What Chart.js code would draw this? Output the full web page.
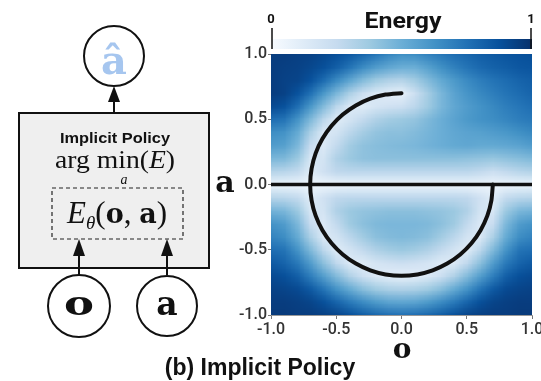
<!DOCTYPE html>
<html>
<head>
<meta charset="utf-8">
<script src="https://cdn.jsdelivr.net/npm/chart.js@4.4.1/dist/chart.umd.min.js"></script>
<style>
  html, body { margin: 0; padding: 0; background: #fff; }
  #wrap { position: relative; width: 541px; height: 381px; overflow: hidden; }
  #energyChart { position: absolute; left: 0; top: 0; }
  #overlay { position: absolute; left: 0; top: 0; pointer-events: none; }
</style>
</head>
<body>
<div id="wrap">
  <canvas id="energyChart" width="560" height="381"></canvas>
  <svg id="overlay" width="541" height="381" xmlns="http://www.w3.org/2000/svg">
    <!-- diagram: implicit policy box -->
    <rect x="19" y="113" width="190" height="155" fill="#efefef" stroke="#111" stroke-width="2"/>
    <text x="115" y="143" text-anchor="middle" font-family="Liberation Sans, Arial, sans-serif" font-weight="bold" font-size="15" fill="#111" textLength="110" lengthAdjust="spacingAndGlyphs">Implicit Policy</text>
    <text x="115" y="168" text-anchor="middle" font-family="Liberation Serif, serif" font-size="25" fill="#111" textLength="120" lengthAdjust="spacingAndGlyphs">arg min(<tspan font-style="italic">E</tspan>)</text>
    <text x="124" y="184" text-anchor="middle" font-family="Liberation Serif, serif" font-style="italic" font-size="14" fill="#111">a</text>
    <rect x="52" y="188" width="131" height="51" fill="none" stroke="#222" stroke-width="1.2" stroke-dasharray="4 3"/>
    <text x="117" y="223" text-anchor="middle" font-family="Liberation Serif, serif" font-size="31" fill="#111"><tspan font-style="italic">E</tspan><tspan font-style="italic" font-size="19" dy="6">θ</tspan><tspan dy="-6">(</tspan><tspan font-family="DejaVu Serif, serif" font-weight="bold" font-size="27">o</tspan>, <tspan font-family="DejaVu Serif, serif" font-weight="bold" font-size="27">a</tspan>)</text>

    <!-- output node -->
    <line x1="114" y1="100" x2="114" y2="113" stroke="#111" stroke-width="2"/>
    <polygon points="114,86 108,102 120,102" fill="#111"/>
    <circle cx="114" cy="56" r="30" fill="#fff" stroke="#111" stroke-width="2"/>
    <text x="114" y="74" text-anchor="middle" font-family="DejaVu Serif, serif" font-weight="bold" font-size="40" fill="#a6c6ef">â</text>

    <!-- input nodes -->
    <line x1="79" y1="254" x2="79" y2="275" stroke="#111" stroke-width="2"/>
    <polygon points="79,239 73,256 85,256" fill="#111"/>
    <line x1="167" y1="254" x2="167" y2="275" stroke="#111" stroke-width="2"/>
    <polygon points="167,239 161,256 173,256" fill="#111"/>
    <circle cx="79" cy="306" r="31" fill="#fff" stroke="#111" stroke-width="2"/>
    <circle cx="167" cy="306" r="30" fill="#fff" stroke="#111" stroke-width="2"/>
    <text x="79" y="315" text-anchor="middle" font-family="DejaVu Serif, serif" font-weight="bold" font-size="33" fill="#111" textLength="30" lengthAdjust="spacingAndGlyphs">o</text>
    <text x="167" y="315" text-anchor="middle" font-family="DejaVu Serif, serif" font-weight="bold" font-size="33" fill="#111">a</text>

    <!-- colorbar labels -->
    <text x="403" y="28" text-anchor="middle" font-family="Roboto, sans-serif" font-weight="bold" font-size="22" fill="#111" textLength="77" lengthAdjust="spacingAndGlyphs">Energy</text>
    <text x="271" y="23" text-anchor="middle" font-family="Roboto, sans-serif" font-weight="bold" font-size="13" fill="#111">0</text>
    <text x="531" y="23" text-anchor="middle" font-family="Roboto, sans-serif" font-weight="bold" font-size="13" fill="#111">1</text>

    <!-- axis titles -->
    <text x="225" y="192" text-anchor="middle" font-family="DejaVu Serif, serif" font-weight="bold" font-size="30" fill="#111">a</text>
    <text x="402" y="358" text-anchor="middle" font-family="DejaVu Serif, serif" font-weight="bold" font-size="28" fill="#111">o</text>

    <!-- caption -->
    <text x="260" y="375" text-anchor="middle" font-family="Liberation Sans, Arial, sans-serif" font-weight="bold" font-size="23" fill="#111">(b) Implicit Policy</text>
  </svg>
</div>
<script>
// ticks
const tickValues = [-1.0, -0.5, 0.0, 0.5, 1.0];

// grid of the energy map: columns o = -1.0 .. 1.0, rows a = 1.0 .. -1.0 (step 0.1)
const gridO = [-1.0, -0.9, -0.8, -0.7, -0.6, -0.5, -0.4, -0.3, -0.2, -0.1, 0.0, 0.1, 0.2, 0.3, 0.4, 0.5, 0.6, 0.7, 0.8, 0.9, 1.0];
const gridA = [1.0, 0.9, 0.8, 0.7, 0.6, 0.5, 0.4, 0.3, 0.2, 0.1, 0.0, -0.1, -0.2, -0.3, -0.4, -0.5, -0.6, -0.7, -0.8, -0.9, -1.0];
const energy = [
  [.95,.95,.94,.93,.91,.88,.84,.79,.73,.67,.63,.64,.68,.72,.76,.79,.82,.84,.86,.87,.88],
  [.95,.94,.93,.91,.88,.82,.74,.65,.58,.53,.50,.50,.56,.63,.69,.74,.78,.81,.83,.85,.86],
  [.95,.93,.92,.87,.77,.65,.54,.44,.37,.32,.30,.36,.44,.52,.59,.65,.70,.74,.77,.80,.82],
  [.95,.93,.87,.75,.60,.46,.33,.22,.14,.10,.08,.22,.35,.46,.55,.61,.66,.70,.74,.77,.80],
  [.90,.87,.76,.60,.44,.28,.14,.12,.17,.20,.22,.28,.37,.46,.53,.58,.62,.66,.70,.73,.76],
  [.76,.74,.62,.45,.28,.12,.18,.26,.32,.36,.38,.40,.45,.50,.55,.59,.62,.64,.67,.70,.72],
  [.64,.62,.52,.33,.14,.18,.28,.35,.40,.42,.42,.44,.47,.50,.53,.55,.56,.58,.60,.63,.66],
  [.58,.56,.46,.24,.14,.26,.36,.41,.43,.44,.45,.46,.48,.50,.52,.53,.52,.52,.53,.55,.58],
  [.46,.45,.38,.16,.18,.32,.38,.41,.42,.42,.42,.42,.42,.42,.42,.41,.40,.39,.41,.43,.45],
  [.30,.29,.26,.12,.20,.27,.28,.28,.28,.28,.28,.28,.28,.28,.28,.28,.26,.22,.26,.29,.31],
  [.05,.05,.05,.05,.05,.05,.05,.05,.05,.05,.05,.05,.05,.05,.05,.05,.05,.05,.05,.05,.05],
  [.30,.29,.26,.12,.20,.27,.28,.28,.28,.28,.28,.28,.28,.28,.28,.27,.20,.12,.26,.29,.30],
  [.48,.46,.38,.16,.18,.32,.38,.40,.41,.42,.42,.42,.41,.40,.38,.32,.18,.16,.38,.46,.48],
  [.62,.58,.46,.24,.14,.26,.37,.42,.45,.46,.46,.46,.45,.42,.37,.26,.14,.24,.46,.58,.62],
  [.68,.64,.52,.33,.14,.18,.28,.36,.42,.44,.45,.44,.42,.36,.28,.18,.14,.33,.52,.64,.68],
  [.76,.74,.62,.45,.28,.12,.18,.26,.32,.36,.38,.36,.32,.26,.18,.12,.28,.45,.62,.74,.76],
  [.84,.80,.72,.58,.42,.27,.14,.12,.17,.20,.22,.20,.17,.12,.14,.27,.42,.58,.72,.80,.84],
  [.90,.88,.82,.70,.57,.44,.32,.22,.14,.10,.08,.10,.14,.22,.32,.44,.57,.70,.82,.88,.90],
  [.93,.92,.90,.84,.74,.62,.52,.43,.37,.33,.32,.33,.37,.43,.52,.62,.74,.84,.90,.92,.93],
  [.95,.95,.94,.92,.88,.80,.72,.65,.59,.55,.54,.55,.59,.65,.72,.80,.88,.92,.94,.95,.95],
  [.96,.96,.95,.95,.94,.92,.88,.83,.79,.76,.75,.76,.79,.83,.88,.92,.94,.95,.95,.96,.96]
];

// demonstrations: the spiral and the flat line
const spiralO = [0.0, -0.122, -0.239, -0.350, -0.450, -0.536, -0.606, -0.658, -0.689, -0.700,
  -0.689, -0.658, -0.606, -0.536, -0.450, -0.350, -0.239, -0.122, 0.0,
  0.122, 0.239, 0.350, 0.450, 0.536, 0.606, 0.658, 0.689, 0.700];
const spiralA = [0.700, 0.689, 0.658, 0.606, 0.536, 0.450, 0.350, 0.239, 0.122, 0.0,
  -0.122, -0.239, -0.350, -0.450, -0.536, -0.606, -0.658, -0.689, -0.700,
  -0.689, -0.658, -0.606, -0.536, -0.450, -0.350, -0.239, -0.122, 0.0];
const flatO = [-1.0, 1.0];
const flatA = [0.0, 0.0];

// Blues colour map
const blues = ['#f7fbff', '#deebf7', '#c6dbef', '#9ecae1', '#6baed6', '#4292c6', '#2171b5', '#08519c', '#08306b'];

function hexToRgb(h) {
  return [parseInt(h.slice(1, 3), 16), parseInt(h.slice(3, 5), 16), parseInt(h.slice(5, 7), 16)];
}
function energyColor(v) {
  const t = Math.max(0, Math.min(1, v)) * (blues.length - 1);
  const i = Math.min(Math.floor(t), blues.length - 2);
  const f = t - i;
  const a = hexToRgb(blues[i]), b = hexToRgb(blues[i + 1]);
  return [0, 1, 2].map(k => Math.round(a[k] + (b[k] - a[k]) * f));
}

// heat map + colour bar, placed with the chart's own scales
const energyMap = {
  id: 'energyMap',
  beforeDatasetsDraw(chart) {
    const { ctx, chartArea, scales } = chart;
    const nx = gridO.length, ny = gridA.length;
    const off = document.createElement('canvas');
    off.width = nx; off.height = ny;
    const octx = off.getContext('2d');
    const img = octx.createImageData(nx, ny);
    for (let r = 0; r < ny; r++) {
      for (let c = 0; c < nx; c++) {
        const rgb = energyColor(energy[r][c]);
        const p = (r * nx + c) * 4;
        img.data[p] = rgb[0]; img.data[p + 1] = rgb[1]; img.data[p + 2] = rgb[2]; img.data[p + 3] = 255;
      }
    }
    octx.putImageData(img, 0, 0);
    const half = 0.05;
    const x0 = scales.x.getPixelForValue(gridO[0] - half);
    const x1 = scales.x.getPixelForValue(gridO[nx - 1] + half);
    const y0 = scales.y.getPixelForValue(gridA[0] + half);
    const y1 = scales.y.getPixelForValue(gridA[ny - 1] - half);
    ctx.save();
    ctx.beginPath();
    ctx.rect(chartArea.left, chartArea.top, chartArea.right - chartArea.left, chartArea.bottom - chartArea.top);
    ctx.clip();
    ctx.imageSmoothingEnabled = true;
    ctx.imageSmoothingQuality = 'low';
    ctx.drawImage(off, x0, y0, x1 - x0, y1 - y0);
    ctx.restore();
  },
  afterDraw(chart) {
    const { ctx, chartArea } = chart;
    const left = chartArea.left + 1, right = chartArea.right;
    const grad = ctx.createLinearGradient(left, 0, right, 0);
    blues.forEach((c, i) => grad.addColorStop(i / (blues.length - 1), c));
    ctx.save();
    ctx.fillStyle = grad;
    ctx.fillRect(left, 39, right - left, 10);
    ctx.strokeStyle = '#111';
    ctx.lineWidth = 1.5;
    ctx.beginPath();
    ctx.moveTo(left, 28); ctx.lineTo(left, 49);
    ctx.moveTo(right - 1, 28); ctx.lineTo(right - 1, 49);
    ctx.stroke();
    ctx.restore();
  }
};

const axisFont = { family: 'Roboto', size: 16, weight: 500 };

new Chart(document.getElementById('energyChart'), {
  type: 'scatter',
  data: {
    datasets: [
      {
        data: flatO.map((o, i) => ({ x: o, y: flatA[i] })),
        showLine: true,
        borderColor: '#111',
        borderWidth: 3.5,
        pointRadius: 0
      },
      {
        data: spiralO.map((o, i) => ({ x: o, y: spiralA[i] })),
        showLine: true,
        borderColor: '#111',
        borderWidth: 4,
        borderCapStyle: 'round',
        tension: 0.2,
        pointRadius: 0
      }
    ]
  },
  options: {
    responsive: false,
    animation: false,
    devicePixelRatio: 1,
    layout: { padding: { left: 231, top: 54, right: 28, bottom: 36 } },
    plugins: { legend: { display: false }, tooltip: { enabled: false } },
    scales: {
      x: {
        type: 'linear', min: -1, max: 1,
        afterBuildTicks(scale) { scale.ticks = tickValues.map(v => ({ value: v })); },
        afterFit(scale) { scale.height = 30; },
        ticks: { callback: v => v.toFixed(1), color: '#333', font: axisFont, padding: 1, maxRotation: 0 },
        grid: { drawOnChartArea: false, tickLength: 4, color: '#777' },
        border: { color: '#999' }
      },
      y: {
        type: 'linear', min: -1, max: 1,
        afterBuildTicks(scale) { scale.ticks = tickValues.map(v => ({ value: v })); },
        afterFit(scale) { scale.width = 40; },
        ticks: { callback: v => v.toFixed(1), color: '#333', font: axisFont, padding: 1 },
        grid: { drawOnChartArea: false, tickLength: 3, color: '#777' },
        border: { color: '#999' }
      }
    }
  },
  plugins: [energyMap]
});
</script>
</body>
</html>
